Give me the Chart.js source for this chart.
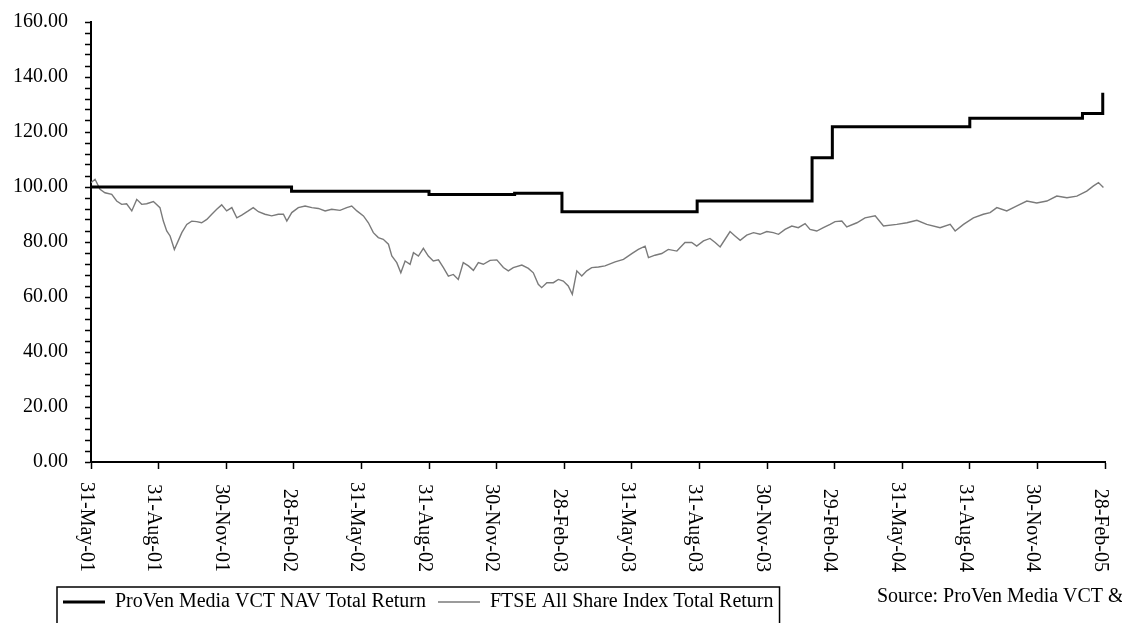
<!DOCTYPE html>
<html lang="en">
<head>
    <meta charset="utf-8" />
    <title>ProVen Media VCT NAV vs FTSE All Share</title>
    <script src="https://cdn.jsdelivr.net/npm/chart.js@4.4.0/dist/chart.umd.min.js"></script>
    <style>
        html, body { margin: 0; padding: 0; background: #fff; }
        canvas { display: block; }
    </style>
</head>
<body>
    <canvas id="chart" width="1122" height="623"></canvas>
    <script>
        // x values are months after 31-May-01
        const tickLabels = ['31-May-01', '31-Aug-01', '30-Nov-01', '28-Feb-02', '31-May-02', '31-Aug-02',
            '30-Nov-02', '28-Feb-03', '31-May-03', '31-Aug-03', '30-Nov-03', '29-Feb-04',
            '31-May-04', '31-Aug-04', '30-Nov-04', '28-Feb-05'];

        const navMonths = [0, 8.9, 15.0, 18.8, 20.9, 26.9, 32.0, 32.9, 39.0, 44.0, 44.9];
        const navValues = [100.0, 98.5, 97.3, 97.7, 91.0, 94.9, 110.6, 121.9, 125.0, 126.7, 134.3];

        const ftseMonths = [0, 0.18, 0.40, 0.62, 0.92, 1.14, 1.36, 1.58, 1.81, 2.03, 2.25, 2.47, 2.77, 3.06, 3.21,
            3.36, 3.51, 3.70, 3.87, 4.03, 4.25, 4.47, 4.69, 4.91, 5.14, 5.36, 5.58, 5.80, 6.02, 6.25, 6.47,
            6.69, 6.98, 7.20, 7.43, 7.72, 8.02, 8.31, 8.54, 8.69, 8.91, 9.20, 9.50, 9.80, 10.09, 10.39, 10.68,
            11.05, 11.35, 11.57, 11.80, 12.09, 12.31, 12.53, 12.75, 12.97, 13.20, 13.35, 13.57, 13.75, 13.94,
            14.16, 14.31, 14.53, 14.75, 14.97, 15.19, 15.42, 15.64, 15.86, 16.08, 16.30, 16.52, 16.75, 16.97,
            17.19, 17.41, 17.71, 18.01, 18.30, 18.52, 18.74, 19.12, 19.41, 19.63, 19.85, 20.00, 20.23, 20.52,
            20.74, 20.96, 21.18, 21.36, 21.56, 21.78, 22.00, 22.22, 22.52, 22.81, 23.26, 23.63, 24.00, 24.29,
            24.59, 24.74, 25.03, 25.33, 25.62, 26.00, 26.36, 26.66, 26.88, 27.18, 27.47, 27.70, 27.92, 28.14,
            28.36, 28.58, 28.81, 29.10, 29.40, 29.69, 29.99, 30.28, 30.51, 30.80, 31.10, 31.39, 31.69, 31.91,
            32.21, 32.50, 32.80, 33.02, 33.32, 33.54, 33.99, 34.35, 34.80, 35.17, 35.76, 36.21, 36.65, 37.09,
            37.68, 38.13, 38.35, 38.72, 39.16, 39.60, 39.90, 40.20, 40.64, 41.09, 41.53, 41.97, 42.42, 42.86,
            43.31, 43.75, 44.19, 44.49, 44.71, 44.93];
        const ftseValues = [101.6, 102.8, 99.2, 97.9, 97.3, 94.9, 93.7, 93.9, 91.3, 95.5, 93.7, 93.9, 94.7, 92.5, 87.6,
            84.0, 82.2, 77.3, 80.4, 83.4, 86.4, 87.6, 87.4, 87.0, 88.2, 90.1, 91.9, 93.5, 91.3, 92.5, 88.8,
            89.8, 91.3, 92.5, 91.0, 90.1, 89.5, 90.1, 90.1, 87.6, 90.7, 92.5, 93.1, 92.5, 92.2, 91.3, 91.9,
            91.5, 92.5, 93.1, 91.3, 89.5, 87.0, 83.4, 81.6, 81.0, 79.2, 74.9, 72.5, 68.8, 73.1,
            71.9, 76.1, 74.9, 77.7, 74.9, 73.1, 73.5, 70.7, 67.6, 68.2, 66.4, 72.5, 71.3, 69.7,
            72.5, 71.9, 73.3, 73.5, 70.7, 69.5, 70.7, 71.6, 70.4, 68.8, 64.6, 63.4, 65.2, 65.2,
            66.4, 65.8, 64.0, 61.0, 69.5, 67.6, 69.5, 70.7, 70.9, 71.3, 72.8, 73.7, 75.8, 77.3,
            78.5, 74.3, 75.2, 75.8, 77.3, 76.7, 79.8, 79.8, 78.5, 80.4, 81.3, 79.8, 78.2, 81.0,
            83.8, 82.2, 80.6, 82.5, 83.4, 82.8, 83.8, 83.4, 82.8, 84.6, 85.8, 85.2, 86.7, 84.6,
            84.0, 85.2, 86.4, 87.4, 87.6, 85.5, 87.0, 88.8, 89.5, 85.8, 86.4, 87.0, 87.9, 86.4,
            85.2, 86.4, 84.0, 86.4, 88.8, 90.1, 90.7, 92.5, 91.3, 93.1, 94.9, 94.2, 94.9, 96.7,
            96.1, 96.7, 98.5, 100.4, 101.6, 99.8];

        const sourceNote = 'Source: ProVen Media VCT &';
        const serif = '"Liberation Serif", "Times New Roman", serif';

        const decor = {
            id: 'decor',
            // move the legend row under the date labels, starting near the left edge
            afterLayout(chart) {
                chart.legend.left = 51;
                chart.legend.top = 580;
            },
            afterDraw(chart) {
                const ctx = chart.ctx;
                const xs = chart.scales.x;
                ctx.save();
                ctx.fillStyle = '#000';
                ctx.font = '20px ' + serif;
                // date labels read top to bottom
                xs.ticks.forEach(t => {
                    const label = tickLabels[Math.round(t.value / 3)];
                    if (label === undefined) return;
                    const px = xs.getPixelForValue(t.value);
                    ctx.save();
                    ctx.translate(px - 5, xs.top + 110);
                    ctx.rotate(Math.PI / 2);
                    ctx.textAlign = 'right';
                    ctx.textBaseline = 'middle';
                    ctx.fillText(label, 0, 0);
                    ctx.restore();
                });

                const boxes = chart.legend.legendHitBoxes;
                if (boxes && boxes.length) {
                    const first = boxes[0];
                    const last = boxes[boxes.length - 1];
                    const mid = first.top + first.height / 2;
                    ctx.strokeStyle = '#000';
                    ctx.lineWidth = 1.5;
                    ctx.strokeRect(first.left - 6, mid - 15, last.left + last.width + 6 - (first.left - 6), 60);
                }

                ctx.textAlign = 'left';
                ctx.textBaseline = 'middle';
                ctx.fillText(sourceNote, 877, 597);
                ctx.restore();
            }
        };

        new Chart(document.getElementById('chart'), {
            type: 'line',
            data: {
                datasets: [{
                    label: 'ProVen Media VCT NAV Total Return',
                    data: navMonths.map((m, i) => ({ x: m, y: navValues[i] })),
                    borderColor: '#000',
                    backgroundColor: '#000',
                    borderWidth: 3,
                    stepped: true,
                    pointRadius: 0,
                    fill: false
                }, {
                    label: 'FTSE All Share Index Total Return',
                    data: ftseMonths.map((m, i) => ({ x: m, y: ftseValues[i] })),
                    borderColor: '#7a7a7a',
                    backgroundColor: '#7a7a7a',
                    borderWidth: 1.4,
                    tension: 0,
                    pointRadius: 0,
                    fill: false
                }]
            },
            options: {
                responsive: false,
                animation: false,
                layout: { padding: { left: 5, right: 17, top: 22, bottom: 0 } },
                plugins: {
                    legend: {
                        position: 'bottom',
                        align: 'start',
                        labels: {
                            usePointStyle: true,
                            pointStyle: 'line',
                            pointStyleWidth: 42,
                            padding: 12,
                            color: '#000',
                            font: { family: serif, size: 20 }
                        }
                    },
                    tooltip: { enabled: false }
                },
                scales: {
                    x: {
                        type: 'linear',
                        min: 0,
                        max: 45,
                        ticks: { stepSize: 3, display: false },
                        grid: { drawOnChartArea: false, drawTicks: true, tickLength: 7, tickColor: '#000', tickWidth: 1.5 },
                        border: { color: '#000', width: 2 },
                        afterFit(scale) { scale.height = 119; }
                    },
                    y: {
                        min: 0,
                        max: 160,
                        ticks: {
                            stepSize: 4,
                            autoSkip: false,
                            padding: 17,
                            color: '#000',
                            font: { family: serif, size: 20 },
                            callback: v => (v % 20 === 0 ? v.toFixed(2) : '')
                        },
                        grid: { drawOnChartArea: false, tickLength: 6, tickColor: '#000', tickWidth: 1.5 },
                        border: { color: '#000', width: 2 },
                        afterFit(scale) {
                            scale.width = 86;
                            scale.paddingTop = 0;
                            scale.paddingBottom = 0;
                        }
                    }
                }
            },
            plugins: [decor]
        });
    </script>
</body>
</html>
